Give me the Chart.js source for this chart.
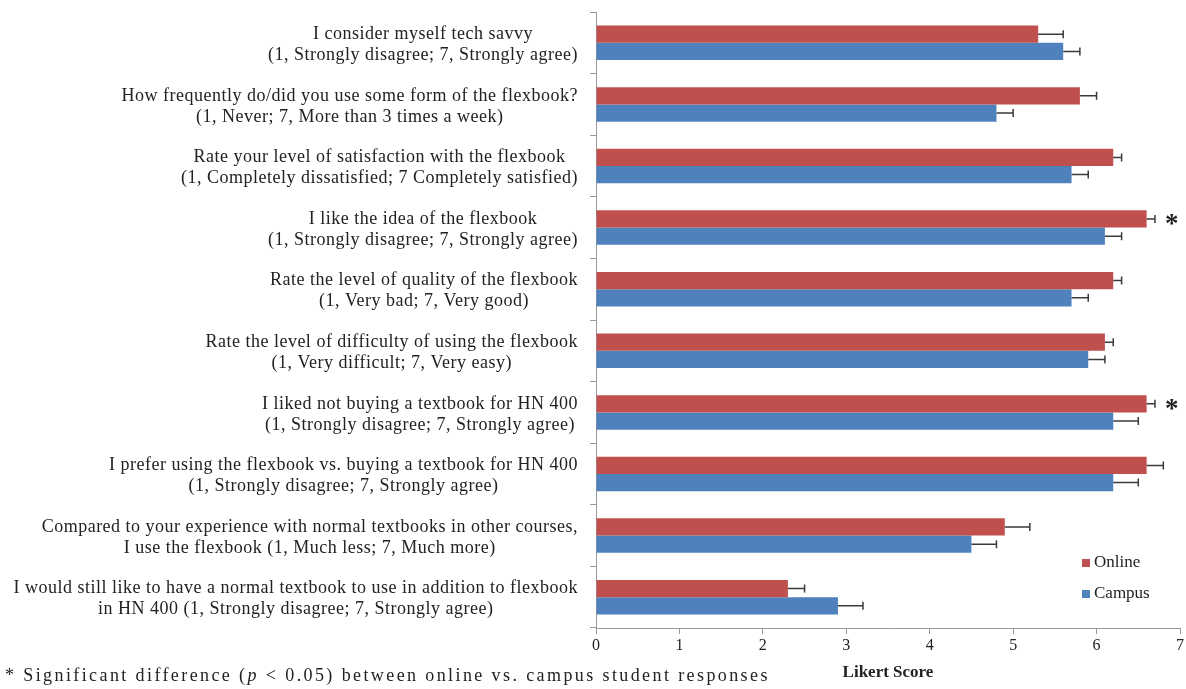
<!DOCTYPE html>
<html>
<head>
<meta charset="utf-8">
<script src="https://cdn.jsdelivr.net/npm/chart.js@4.4.0/dist/chart.umd.min.js"></script>
<style>
  body { margin: 0; background: #fff; }
  #wrap { position: relative; width: 1186px; height: 689px; }
  #note {
    position: absolute; left: 5px; top: 665px;
    font: 18px 'Liberation Serif', 'Times New Roman', serif;
    letter-spacing: 2.4px; color: #222; white-space: nowrap;
  }
</style>
</head>
<body>
<div id="wrap">
  <canvas id="likertChart"></canvas>
  <div id="note">* Significant difference (<i>p</i> &lt; 0.05) between online vs. campus student responses</div>
</div>
<script>
const questions = [
  ['I consider myself tech savvy', '(1, Strongly disagree; 7, Strongly agree)'],
  ['How frequently do/did you use some form of the flexbook?', '(1, Never; 7, More than 3 times a week)'],
  ['Rate your level of satisfaction with the flexbook', '(1, Completely dissatisfied; 7 Completely satisfied)'],
  ['I like the idea of the flexbook', '(1, Strongly disagree; 7, Strongly agree)'],
  ['Rate the level of quality of the flexbook', '(1, Very bad; 7, Very good)'],
  ['Rate the level of difficulty of using the flexbook', '(1, Very difficult; 7, Very easy)'],
  ['I liked not buying a textbook for HN 400', '(1, Strongly disagree; 7, Strongly agree)'],
  ['I prefer using the flexbook vs. buying a textbook for HN 400', '(1, Strongly disagree; 7, Strongly agree)'],
  ['Compared to your experience with normal textbooks in other courses,', 'I use the flexbook (1, Much less; 7, Much more)'],
  ['I would still like to have a normal textbook to use in addition to flexbook', 'in HN 400 (1, Strongly disagree; 7, Strongly agree)']
];
const onlineScores = [5.3, 5.8, 6.2, 6.6, 6.2, 6.1, 6.6, 6.6, 4.9, 2.3];
const onlineErrors = [0.3, 0.2, 0.1, 0.1, 0.1, 0.1, 0.1, 0.2, 0.3, 0.2];
const campusScores = [5.6, 4.8, 5.7, 6.1, 5.7, 5.9, 6.2, 6.2, 4.5, 2.9];
const campusErrors = [0.2, 0.2, 0.2, 0.2, 0.2, 0.2, 0.3, 0.3, 0.3, 0.3];
const significant = [false, false, false, true, false, false, true, false, false, false];

const SERIF = "'Liberation Serif', 'Times New Roman', serif";
const TEXT = '#222';

// error bars, question labels, asterisks and the legend box
const surveyDecor = {
  id: 'surveyDecor',
  afterDatasetsDraw(chart) {
    const ctx = chart.ctx;
    const xs = chart.scales.x;
    const errs = [onlineErrors, campusErrors];
    ctx.save();
    ctx.strokeStyle = '#3a3a3a';
    ctx.lineWidth = 1.5;
    chart.data.datasets.forEach((ds, d) => {
      chart.getDatasetMeta(d).data.forEach((bar, i) => {
        const x0 = xs.getPixelForValue(ds.data[i]);
        const x1 = xs.getPixelForValue(ds.data[i] + errs[d][i]);
        ctx.beginPath();
        ctx.moveTo(x0, bar.y);
        ctx.lineTo(x1, bar.y);
        ctx.moveTo(x1, bar.y - 4);
        ctx.lineTo(x1, bar.y + 4);
        ctx.stroke();
      });
    });
    ctx.restore();
  },
  afterDraw(chart) {
    const ctx = chart.ctx;
    const area = chart.chartArea;
    const ys = chart.scales.y;
    const xs = chart.scales.x;
    ctx.save();
    ctx.fillStyle = TEXT;
    ctx.font = '18px ' + SERIF;
    ctx.letterSpacing = '0.5px';
    ctx.textAlign = 'center';
    ctx.textBaseline = 'middle';
    questions.forEach((lines, i) => {
      const yc = ys.getPixelForValue(i) + 2;
      const widest = Math.max(...lines.map(l => ctx.measureText(l).width));
      const cx = area.left - 18 - widest / 2;
      lines.forEach((l, k) => {
        ctx.fillText(l, cx, yc + (k - (lines.length - 1) / 2) * 21);
      });
    });
    ctx.letterSpacing = '0px';

    // significance markers beside the online bar
    const online = chart.getDatasetMeta(0).data;
    ctx.font = 'bold 27px ' + SERIF;
    significant.forEach((s, i) => {
      if (s) ctx.fillText('*', xs.getPixelForValue(6.9), online[i].y + 6);
    });

    // legend
    ctx.font = '17px ' + SERIF;
    ctx.textAlign = 'left';
    chart.data.datasets.forEach((ds, d) => {
      const ly = area.bottom - 65 + d * 31;
      const lx = area.right - 98;
      ctx.fillStyle = ds.backgroundColor;
      ctx.fillRect(lx, ly - 4, 8, 8);
      ctx.fillStyle = TEXT;
      ctx.fillText(ds.label, lx + 12, ly);
    });
    ctx.restore();
  }
};

new Chart(document.getElementById('likertChart'), {
  type: 'bar',
  data: {
    labels: questions,
    datasets: [
      { label: 'Online', data: onlineScores, backgroundColor: '#C0504D' },
      { label: 'Campus', data: campusScores, backgroundColor: '#4F81BD' }
    ]
  },
  options: {
    indexAxis: 'y',
    responsive: true,
    maintainAspectRatio: false,
    animation: false,
    layout: { padding: { top: 12, right: 6, left: 0, bottom: 0 } },
    datasets: { bar: { categoryPercentage: 0.56, barPercentage: 1.0 } },
    plugins: { legend: { display: false }, tooltip: { enabled: false } },
    scales: {
      x: {
        min: 0,
        max: 7,
        ticks: { stepSize: 1, color: TEXT, font: { family: SERIF, size: 16 }, padding: 2 },
        grid: { drawOnChartArea: false, tickLength: 6, color: '#999' },
        border: { color: '#999' },
        title: { display: true, text: 'Likert Score', color: TEXT, font: { family: SERIF, size: 17, weight: 'bold' }, padding: { top: 2, bottom: 6 } },
        afterFit(scale) { scale.height = 61; }
      },
      y: {
        ticks: { display: false },
        grid: { drawOnChartArea: false, tickLength: 6, color: '#999' },
        border: { color: '#999' },
        afterFit(scale) { scale.width = 596; }
      }
    }
  },
  plugins: [surveyDecor]
});
</script>
</body>
</html>
